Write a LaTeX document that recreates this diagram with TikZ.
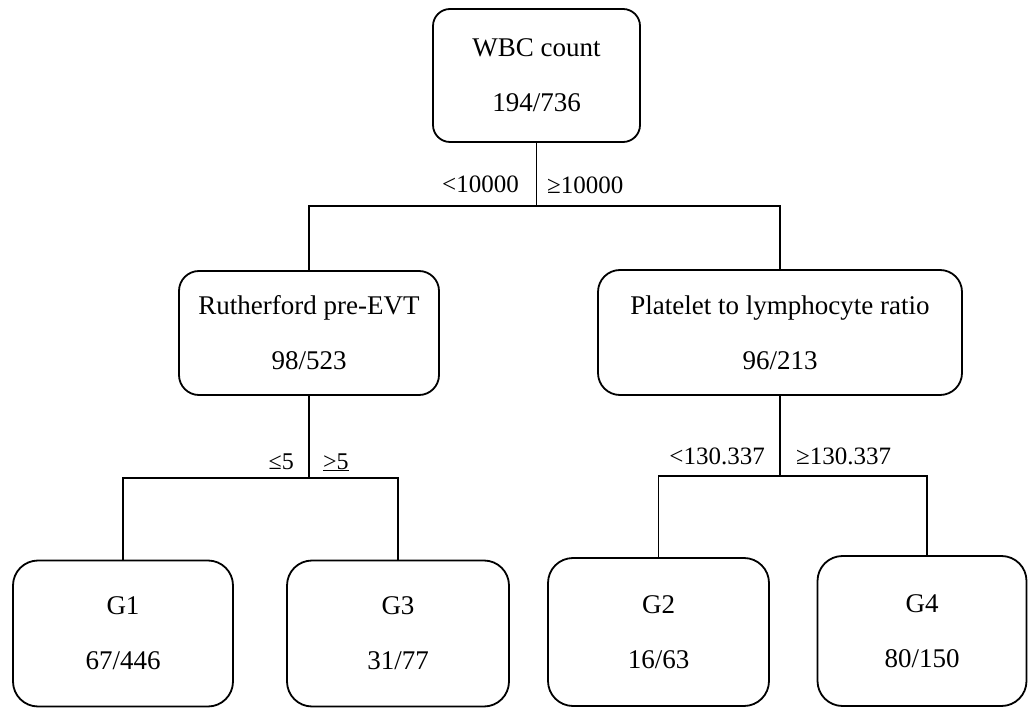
\documentclass[tikz,border=0pt]{standalone}
\usepackage{fontspec}
\setmainfont{Liberation Serif}
\begin{document}
\begin{tikzpicture}[x=1pt,y=-1pt,
  treebox/.style={draw, line width=1.8pt, align=center, inner sep=0pt,
    font=\fontsize{27}{55}\selectfont},
  conn/.style={line width=1.8pt},
  lbl/.style={inner sep=0pt, font=\fontsize{25}{30}\selectfont}]
\useasboundingbox[fill=white] (0,0) rectangle (1028,708);

\node[treebox, rounded corners=17pt, minimum width=207pt, minimum height=133pt] (root) at (536.5,75.5) {WBC count\\194/736};
\node[treebox, rounded corners=20pt, minimum width=260pt, minimum height=124pt] (L) at (309,333) {Rutherford pre-EVT\\98/523};
\node[treebox, rounded corners=22pt, minimum width=364pt, minimum height=125pt] (R) at (780,332.5) {Platelet to lymphocyte ratio\\96/213};
\node[treebox, rounded corners=25pt, minimum width=220pt, minimum height=146pt] (G1) at (123,633.5) {G1\\67/446};
\node[treebox, rounded corners=25pt, minimum width=222pt, minimum height=146pt] (G3) at (398,633.5) {G3\\31/77};
\node[treebox, rounded corners=25pt, minimum width=221pt, minimum height=148pt] (G2) at (658.5,632) {G2\\16/63};
\node[treebox, rounded corners=25pt, minimum width=209pt, minimum height=150pt] (G4) at (922,631) {G4\\80/150};

\coordinate (s1) at (536.5,206);
\coordinate (s2) at (309,478);
\coordinate (s3) at (780,476);

\draw[conn] (root.south) -- (s1);
\draw[conn] (L.north) |- (s1);
\draw[conn] (R.north) |- (s1);
\draw[conn] (L.south) -- (s2);
\draw[conn] (G1.north) |- (s2);
\draw[conn] (G3.north) |- (s2);
\draw[conn] (R.south) -- (s3);
\draw[conn] (G2.north) |- (s3);
\draw[conn] ([xshift=5pt]G4.north) |- (s3);

\node[lbl, anchor=base east] (l1) at (519,193) {<10000};
\node[lbl, anchor=base west] (l2) at (547,194) {≥10000};
\node[lbl, anchor=base east, font=\fontsize{24}{30}\selectfont] (l3) at (294,469) {≤5};
\node[lbl, anchor=base west, font=\fontsize{24}{30}\selectfont] (l4) at (323,469) {\underline{>5}};
\node[lbl, anchor=base east] (l5) at (765,464) {<130.337};
\node[lbl, anchor=base west] (l6) at (796,464) {≥130.337};
\end{tikzpicture}
\end{document}
